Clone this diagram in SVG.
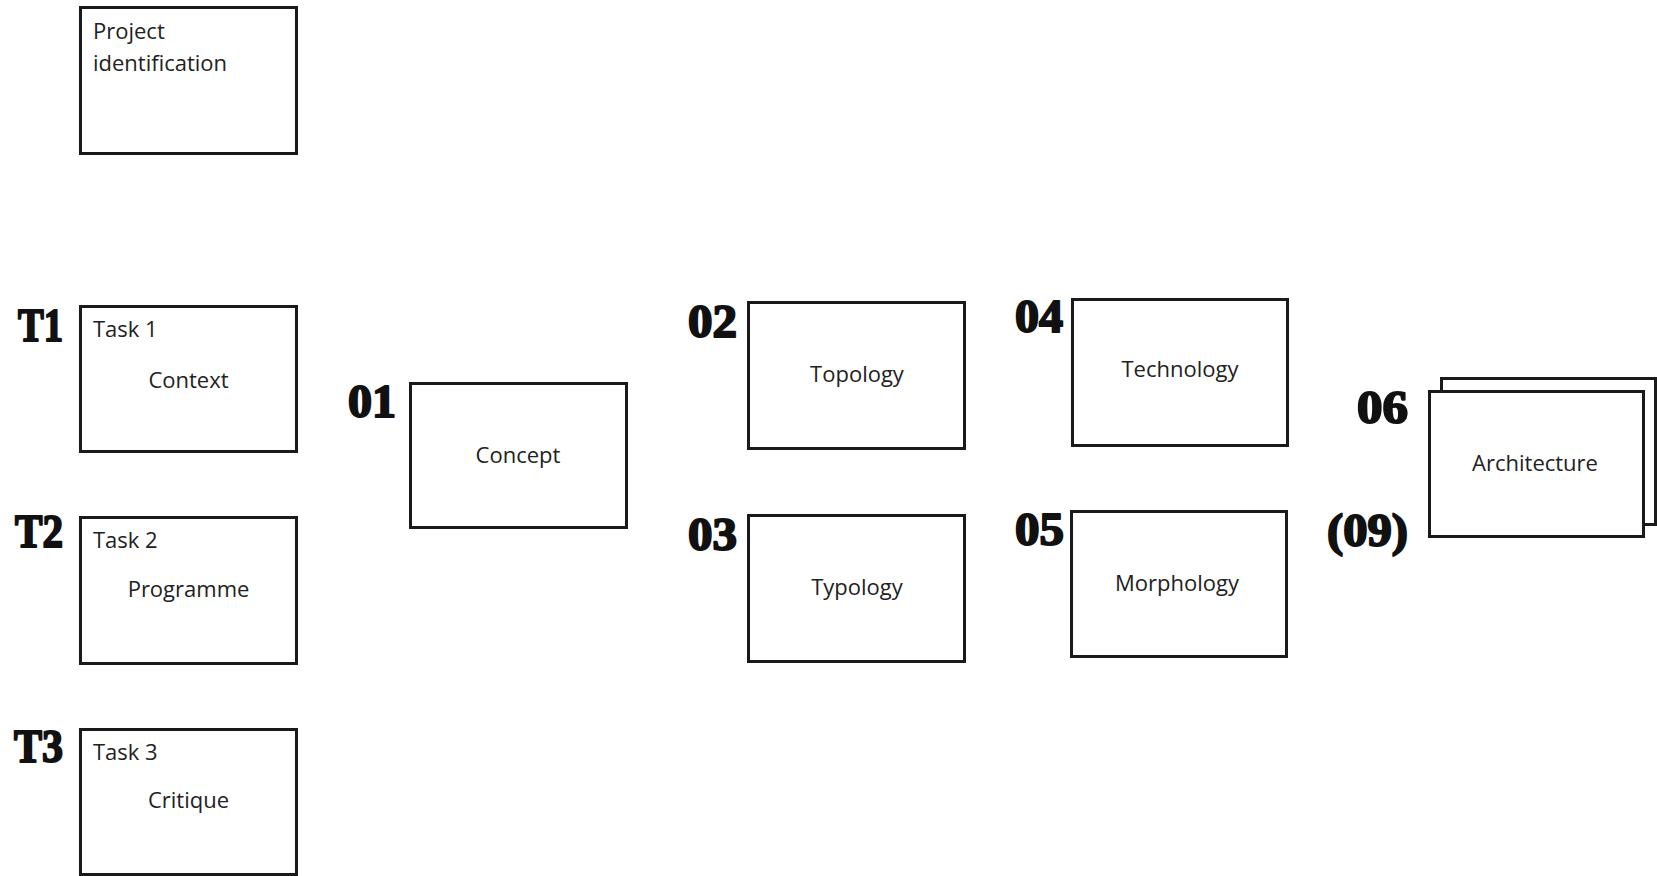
<svg xmlns="http://www.w3.org/2000/svg" width="1657" height="876" viewBox="0 0 1657 876">
  <style>
    .box { fill: #ffffff; stroke: #1a1a1a; stroke-width: 3; }
    .txt { font-family: "Open Sans", "Noto Sans", sans-serif; font-size: 22px; fill: #222222; }
    .mid { text-anchor: middle; }
    .num { font-family: "Liberation Serif", "DejaVu Serif", serif; font-weight: bold; font-size: 46px; fill: #111111; stroke: #111111; stroke-width: 2; stroke-linejoin: round; }
  </style>
  <rect width="1657" height="876" fill="#ffffff"/>

  <g id="connectors"></g>

  <g id="project-identification">
    <rect class="box" x="80.5" y="7.5" width="216" height="146"/>
    <text class="txt" x="93" y="39">Project</text>
    <text class="txt" x="93" y="71">identification</text>
  </g>

  <g id="task1">
    <text class="num" x="18" y="341" textLength="45" lengthAdjust="spacingAndGlyphs">T1</text>
    <rect class="box" x="80.5" y="306.5" width="216" height="145"/>
    <text class="txt" x="93" y="337">Task 1</text>
    <text class="txt mid" x="188.5" y="388">Context</text>
  </g>

  <g id="task2">
    <text class="num" x="15" y="547" textLength="48" lengthAdjust="spacingAndGlyphs">T2</text>
    <rect class="box" x="80.5" y="517.5" width="216" height="146"/>
    <text class="txt" x="93" y="548">Task 2</text>
    <text class="txt mid" x="188.5" y="597">Programme</text>
  </g>

  <g id="task3">
    <text class="num" x="14" y="762" textLength="49" lengthAdjust="spacingAndGlyphs">T3</text>
    <rect class="box" x="80.5" y="729.5" width="216" height="145"/>
    <text class="txt" x="93" y="760">Task 3</text>
    <text class="txt mid" x="188.5" y="808">Critique</text>
  </g>

  <g id="concept">
    <text class="num" x="348" y="417" textLength="48" lengthAdjust="spacingAndGlyphs">01</text>
    <rect class="box" x="410.5" y="383.5" width="216" height="144"/>
    <text class="txt mid" x="518" y="463">Concept</text>
  </g>

  <g id="topology">
    <text class="num" x="688" y="337" textLength="49" lengthAdjust="spacingAndGlyphs">02</text>
    <rect class="box" x="748.5" y="302.5" width="216" height="146"/>
    <text class="txt mid" x="857" y="382">Topology</text>
  </g>

  <g id="typology">
    <text class="num" x="688" y="550" textLength="49" lengthAdjust="spacingAndGlyphs">03</text>
    <rect class="box" x="748.5" y="515.5" width="216" height="146"/>
    <text class="txt mid" x="857" y="595">Typology</text>
  </g>

  <g id="technology">
    <text class="num" x="1015" y="332" textLength="48" lengthAdjust="spacingAndGlyphs">04</text>
    <rect class="box" x="1072.5" y="299.5" width="215" height="146"/>
    <text class="txt mid" x="1180" y="377">Technology</text>
  </g>

  <g id="morphology">
    <text class="num" x="1015" y="545" textLength="49" lengthAdjust="spacingAndGlyphs">05</text>
    <rect class="box" x="1071.5" y="511.5" width="215" height="145"/>
    <text class="txt mid" x="1177" y="591">Morphology</text>
  </g>

  <g id="architecture">
    <text class="num" x="1357" y="423" textLength="51" lengthAdjust="spacingAndGlyphs">06</text>
    <text class="num" x="1327" y="546" textLength="81" lengthAdjust="spacingAndGlyphs">(09)</text>
    <rect class="box" x="1441.5" y="378.5" width="214" height="146"/>
    <rect class="box" x="1429.5" y="391.5" width="214" height="145"/>
    <text class="txt mid" x="1535" y="471">Architecture</text>
  </g>
</svg>
